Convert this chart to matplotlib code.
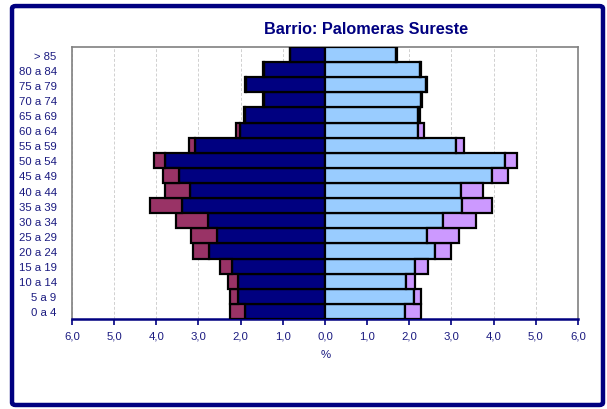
import numpy as np
import matplotlib.pyplot as plt
from matplotlib.patches import FancyBboxPatch
from matplotlib.ticker import FixedLocator, FuncFormatter

plt.rcParams['font.family'] = ['Liberation Sans', 'DejaVu Sans']

age_groups = ['0 a 4', '5 a 9', '10 a 14', '15 a 19', '20 a 24', '25 a 29',
              '30 a 34', '35 a 39', '40 a 44', '45 a 49', '50 a 54', '55 a 59',
              '60 a 64', '65 a 69', '70 a 74', '75 a 79', '80 a 84', '> 85']

# left side (hombres): españoles / extranjeros, % of population
men_es = [1.90, 2.06, 2.06, 2.20, 2.76, 2.55, 2.77, 3.39, 3.20, 3.47, 3.80, 3.09,
          2.02, 1.90, 1.45, 1.88, 1.45, 0.82]
men_ext = [0.36, 0.20, 0.23, 0.30, 0.37, 0.62, 0.77, 0.76, 0.60, 0.37, 0.25, 0.13,
           0.10, 0.02, 0.02, 0.02, 0.01, 0.01]
# right side (mujeres)
women_es = [1.90, 2.10, 1.93, 2.13, 2.60, 2.43, 2.81, 3.24, 3.22, 3.97, 4.28, 3.11,
            2.21, 2.20, 2.27, 2.40, 2.26, 1.69]
women_ext = [0.38, 0.17, 0.20, 0.31, 0.38, 0.74, 0.78, 0.71, 0.52, 0.38, 0.27, 0.18,
             0.14, 0.05, 0.02, 0.02, 0.02, 0.01]

navy = '#000080'
maroon = '#993366'
light_blue = '#99CCFF'
lavender = '#CC99FF'
text_col = '#1a1a80'

fig = plt.figure(figsize=(6.07, 4.10), dpi=100)
ax = fig.add_axes([0.1186, 0.2195, 0.8336, 0.6634])

y = np.arange(len(age_groups))
me = np.array(men_es)
mx = np.array(men_ext)
we = np.array(women_es)
wx = np.array(women_ext)

kw = dict(height=1.0, edgecolor='black', linewidth=1.6, zorder=3)
ax.barh(y, -me, color=navy, **kw)
ax.barh(y, -mx, left=-me, color=maroon, **kw)
ax.barh(y, we, color=light_blue, **kw)
ax.barh(y, wx, left=we, color=lavender, **kw)

ax.set_xlim(-6, 6)
ax.set_ylim(-0.5, len(age_groups) - 0.5)
ax.xaxis.set_major_locator(FixedLocator(np.arange(-6, 7, 1)))
ax.xaxis.set_major_formatter(FuncFormatter(lambda v, p: f'{abs(v):.1f}'.replace('.', ',')))
ax.set_yticks(y)
ax.set_yticklabels(age_groups)

ax.grid(axis='x', color='#d0d0d0', linestyle=(0, (3, 2)), linewidth=0.7, zorder=0)
ax.tick_params(axis='y', length=0, pad=11, labelsize=8.2, labelcolor=text_col)
ax.tick_params(axis='x', length=4, width=1.2, color=navy, direction='out',
               pad=4, labelsize=8.2, labelcolor=text_col)

for s in ['top', 'right', 'left']:
    ax.spines[s].set_color('#808080')
    ax.spines[s].set_linewidth(1.2)
ax.spines['bottom'].set_color(navy)
ax.spines['bottom'].set_linewidth(1.8)

fig.text(0.5371, 0.134, '%', ha='center', va='center', fontsize=8.2, color=text_col)
fig.text(0.603, 0.929, 'Barrio: Palomeras Sureste', ha='center', va='center',
         fontsize=11.7, fontweight='bold', color=navy)

border = FancyBboxPatch((0.0198, 0.0098), 0.9736, 0.973, boxstyle='round,pad=0,rounding_size=0.006',
                        transform=fig.transFigure, facecolor='none', edgecolor=navy,
                        linewidth=3.2)
fig.patches.append(border)

fig.savefig('out.png', dpi=100)
